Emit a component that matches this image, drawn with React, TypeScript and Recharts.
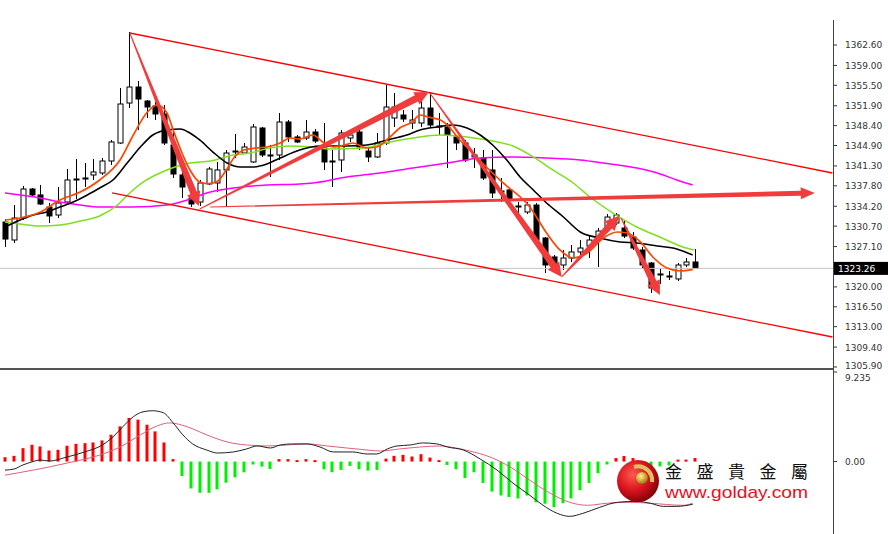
import React from "react";
import { ComposedChart, Bar, Line, XAxis, YAxis, ReferenceLine } from "recharts";

// candles, one per bar index
const opens = [
  1331.43, 1328.26, 1332.13, 1337.24, 1336.19, 1334.07, 1332.66, 1334.95, 1338.83, 1339.0,
  1339.71, 1340.06, 1342.17, 1345.34, 1352.38, 1355.2, 1352.73, 1351.86, 1350.45, 1344.99,
  1339.71, 1335.66, 1334.95, 1338.13, 1338.3, 1340.59, 1343.75, 1343.58, 1342.0, 1347.98,
  1343.23, 1343.23, 1349.04, 1346.4, 1346.22, 1347.28, 1344.46, 1342.0, 1342.35, 1346.22,
  1347.28, 1343.93, 1342.88, 1345.34, 1349.74, 1350.27, 1348.86, 1348.86, 1351.5, 1348.16,
  1348.16, 1346.4, 1345.34, 1342.88, 1342.7, 1340.59, 1336.71, 1337.07, 1334.07, 1333.19,
  1334.42, 1328.61, 1325.27, 1323.86, 1325.09, 1326.15, 1327.2, 1328.26, 1330.37, 1331.25,
  1330.37, 1328.78, 1326.5, 1324.21, 1322.1, 1321.75, 1321.4, 1323.86, 1324.39,
];
const highs = [
  1331.96, 1334.42, 1337.77, 1337.42, 1337.95, 1334.78, 1337.59, 1340.76, 1342.52, 1341.82,
  1342.52, 1342.7, 1345.87, 1355.03, 1364.89, 1356.26, 1352.91, 1352.56, 1352.03, 1347.63,
  1341.82, 1337.59, 1338.83, 1341.12, 1342.0, 1344.11, 1346.93, 1345.34, 1348.69, 1348.16,
  1344.99, 1350.62, 1349.39, 1346.75, 1349.39, 1347.81, 1348.86, 1344.11, 1347.63, 1347.63,
  1347.63, 1344.64, 1347.1, 1355.55, 1354.15, 1351.15, 1351.15, 1352.73, 1354.32, 1350.62,
  1348.86, 1346.75, 1345.87, 1344.46, 1344.11, 1344.11, 1339.18, 1337.42, 1334.95, 1334.95,
  1334.78, 1328.78, 1325.62, 1326.5, 1327.38, 1328.26, 1329.14, 1330.37, 1332.84, 1333.01,
  1331.78, 1329.67, 1327.03, 1324.39, 1323.33, 1322.8, 1324.21, 1325.09, 1326.68,
];
const lows = [
  1327.03, 1327.73, 1331.78, 1336.01, 1334.42, 1331.25, 1332.13, 1334.78, 1335.48, 1337.59,
  1338.83, 1339.71, 1341.47, 1345.16, 1351.5, 1347.63, 1349.74, 1349.39, 1344.99, 1339.18,
  1335.66, 1334.07, 1334.25, 1337.95, 1336.71, 1334.07, 1342.7, 1343.4, 1341.82, 1342.88,
  1339.35, 1342.35, 1345.52, 1345.34, 1345.87, 1345.34, 1340.59, 1337.59, 1340.24, 1345.52,
  1344.11, 1342.0, 1342.7, 1344.99, 1348.16, 1349.04, 1347.81, 1348.16, 1347.98, 1346.75,
  1340.94, 1344.11, 1342.0, 1340.94, 1338.83, 1335.66, 1334.95, 1334.95, 1332.66, 1332.84,
  1327.38, 1322.45, 1322.63, 1322.98, 1324.39, 1325.62, 1325.09, 1323.51, 1329.67, 1330.9,
  1328.61, 1326.5, 1323.33, 1318.92, 1320.51, 1321.22, 1321.04, 1323.51, 1323.15,
];
const closes = [
  1328.43, 1332.13, 1337.24, 1336.19, 1334.6, 1332.49, 1334.78, 1338.83, 1339.0, 1339.18,
  1340.24, 1342.17, 1345.52, 1352.21, 1355.2, 1353.09, 1351.68, 1350.45, 1345.34, 1339.88,
  1337.59, 1334.6, 1338.3, 1340.76, 1340.59, 1343.58, 1343.93, 1344.64, 1348.16, 1343.23,
  1343.05, 1349.04, 1346.4, 1345.52, 1347.28, 1345.69, 1342.0, 1342.17, 1347.1, 1346.75,
  1344.64, 1342.88, 1345.34, 1351.68, 1351.68, 1349.57, 1349.39, 1351.5, 1348.51, 1348.34,
  1346.75, 1345.34, 1342.35, 1343.23, 1339.18, 1336.54, 1336.89, 1335.3, 1334.25, 1334.42,
  1328.26, 1323.86, 1323.86, 1325.09, 1326.15, 1326.85, 1328.26, 1329.84, 1332.31, 1332.66,
  1328.96, 1326.85, 1323.86, 1319.81, 1322.28, 1321.92, 1323.86, 1324.39, 1323.26,
];

const lastPrice = 1323.26;
const priceTicks = [
  1362.6, 1359.0, 1355.5, 1351.9, 1348.4, 1344.9, 1341.3, 1337.8, 1334.2, 1330.7,
  1327.1, lastPrice, 1320.0, 1316.5, 1313.0, 1309.4, 1305.9,
];

// moving averages: [bar index, price]
const maFast = [
  [0, 1331.78], [1.7, 1332.13], [4, 1333.19], [6.2, 1335.3], [8.5, 1336.71], [10.7, 1338.83],
  [13, 1342.35], [14.5, 1346.75], [16, 1350.62], [17.2, 1352.03], [18.3, 1350.62], [19, 1347.63],
  [20, 1343.58], [20.9, 1340.59], [22, 1338.48], [23, 1338.2], [24, 1338.6], [25, 1340.6],
  [26, 1343.0], [27, 1344.1], [28.3, 1344.46], [29.6, 1344.64], [31.1, 1345.34], [32.2, 1346.22],
  [33.3, 1346.04], [34.8, 1346.75], [35.9, 1345.52], [37.1, 1344.64], [38.4, 1344.99],
  [39.3, 1345.34], [40.9, 1344.46], [42, 1344.64], [43.5, 1346.4], [44.6, 1347.98], [46, 1349.04],
  [46.9, 1350.27], [47.8, 1349.92], [49.2, 1349.39], [50.1, 1348.33], [51.1, 1346.4],
  [52.5, 1344.11], [54.5, 1340.94], [56.3, 1338.3], [59.3, 1334.07], [61.2, 1329.49],
  [62.7, 1326.5], [64.2, 1325.09], [65.8, 1325.97], [67.6, 1328.61], [69.2, 1329.67],
  [70.3, 1329.49], [71.8, 1327.91], [73.2, 1325.27], [74.8, 1323.33], [76.3, 1322.8], [77.7, 1323.05],
];
const maMid = [
  [0, 1330.55], [1.7, 1331.78], [3.2, 1332.66], [4.7, 1333.19], [6.2, 1334.07], [7.7, 1334.95],
  [9.3, 1336.19], [10.7, 1337.42], [12.2, 1338.83], [13.8, 1341.82], [15.3, 1344.64],
  [16.7, 1346.75], [18.3, 1347.63], [19.8, 1347.81], [20.9, 1347.1], [22, 1345.87],
  [23.5, 1343.75], [25.1, 1341.82], [26.6, 1341.12], [28, 1341.12], [29.6, 1341.65],
  [31.1, 1342.7], [33.3, 1344.11], [35.6, 1344.81], [38.6, 1344.81], [40.9, 1344.99],
  [43.2, 1345.87], [45.4, 1346.75], [46.9, 1347.63], [48.8, 1348.16], [50.6, 1348.51],
  [52.2, 1347.98], [53.7, 1346.75], [55.1, 1344.99], [56.7, 1342.35], [58.2, 1339.35],
  [59.7, 1337.07], [61.2, 1334.78], [63.1, 1332.31], [65, 1329.67], [67.2, 1328.61],
  [69.5, 1327.91], [71.4, 1327.73], [73.7, 1327.2], [75.9, 1326.68], [77.7, 1325.62],
];
const maSlow = [
  [0, 1331.43], [1.7, 1331.08], [4, 1330.72], [6.2, 1330.9], [8.5, 1331.6], [10.7, 1332.49],
  [12.7, 1334.42], [14.1, 1336.54], [15.8, 1338.65], [17.5, 1340.06], [19.2, 1341.12],
  [20.9, 1341.82], [23.2, 1342.17], [25.8, 1343.23], [27.7, 1343.58], [29.9, 1344.46],
  [32.2, 1344.81], [34.5, 1344.64], [36.7, 1344.28], [40.5, 1344.46], [43.5, 1345.52],
  [46.1, 1346.22], [49.2, 1346.75], [52.2, 1346.4], [54.5, 1345.87], [57.4, 1344.81],
  [59.7, 1342.88], [61.9, 1340.59], [64.2, 1338.3], [66.1, 1335.83], [68.7, 1333.01],
  [71.4, 1330.55], [74, 1328.78], [76.6, 1327.03], [77.9, 1326.5],
];
const maLong = [
  [0, 1336.54], [1.7, 1336.19], [4, 1335.66], [6.2, 1334.95], [8.5, 1334.42], [10.7, 1334.07],
  [14.5, 1334.07], [18.3, 1334.42], [20.6, 1335.3], [22.8, 1336.54], [25.8, 1337.42],
  [29.6, 1337.95], [33.3, 1338.12], [34.8, 1338.3], [38.6, 1339.35], [42.4, 1340.06],
  [46.1, 1340.94], [50, 1341.82], [53.7, 1342.7], [57.4, 1342.88], [61.2, 1342.7],
  [65, 1342.35], [67.6, 1341.82], [71.4, 1340.94], [73.7, 1340.06], [75.9, 1338.83], [77.7, 1337.95],
];

// drawn channel and arrows: [bar index, price] end points
const channelUpper = [[14.1, 1364.71], [93.5, 1340.06]];
const channelLower = [[12.1, 1336.54], [93.5, 1311.18]];
const arrowsBig = [
  [[14.1, 1364.71], [21.9, 1334.25]],
  [[22.0, 1333.72], [47.9, 1354.32]],
  [[48.0, 1354.15], [62.9, 1321.75]],
  [[62.9, 1321.75], [69.4, 1332.49]],
  [[69.6, 1332.13], [74.0, 1318.57]],
];
const arrowFlat = [[23.2, 1334.07], [91.5, 1336.54]];

// MACD pane
const hist = [
  0.45, 0.59, 1.38, 1.73, 1.56, 1.14, 1.21, 1.63, 1.83, 1.9,
  1.97, 2.18, 2.77, 3.63, 4.5, 4.32, 3.8, 3.11, 1.97, 0.25,
  -1.49, -2.77, -3.22, -3.22, -2.87, -2.18, -1.63, -1.11, -0.3, -0.52,
  -0.76, 0.25, 0.25, 0.15, 0.25, 0.15, -0.8, -1.1, -0.86, -0.45,
  -0.8, -0.93, -0.86, 0.3, 0.59, 0.69, 0.52, 0.76, 0.41, 0.15,
  -0.35, -0.8, -1.7, -1.1, -2.2, -3.1, -3.5, -3.65, -3.8, -3.5,
  -4.2, -4.35, -4.7, -4.3, -3.8, -2.95, -2.2, -1.2, -0.3, 0.36,
  0.57, 0.36, -0.4, -0.5, -0.5, -0.4, 0.2, 0.2, 0.36,
];
const macdMain = [
  [0, -0.88], [1, -0.78], [2, -0.36], [3, -0.05], [4, 0.16], [5, 0.05], [7, 0.47], [9, 0.99],
  [11, 1.71], [12.2, 2.54], [13.3, 3.58], [14.5, 4.62], [15.6, 5.13], [16.7, 5.24], [17.9, 5.03],
  [19, 3.99], [20.1, 2.75], [21.2, 1.82], [22.8, 1.19], [24, 0.88], [25.8, 0.99], [27.3, 1.3],
  [28.5, 1.61], [30, 1.4], [31.1, 1.71], [32.5, 1.82], [34.1, 1.82], [35.6, 1.5], [37.1, 0.99],
  [39.3, 0.99], [40.9, 0.78], [42, 0.78], [43.2, 1.3], [44.3, 1.61], [45.8, 1.71], [47.2, 1.92],
  [48.8, 1.82], [50, 1.5], [51.8, 1.19], [53.7, 0.26], [55.6, -0.88], [57.4, -2.23],
  [59.3, -3.48], [60.8, -4.51], [62.4, -5.34], [63.8, -5.65], [65.3, -5.34], [67.2, -4.72],
  [69.2, -4.2], [71.4, -4.1], [72.9, -4.3], [74.4, -4.62], [75.9, -4.62], [77.7, -4.41],
];
const macdSignal = [
  [0, -1.4], [3.2, -0.88], [7, -0.16], [10.7, 0.67], [13, 1.5], [15.3, 2.75], [17.2, 3.68],
  [18.6, 3.99], [20.6, 3.58], [22.8, 2.75], [25.1, 2.02], [27.3, 1.71], [29.6, 1.61],
  [31.9, 1.71], [34.1, 1.82], [36.4, 1.61], [38.6, 1.4], [40.9, 1.19], [42.4, 1.09],
  [44.6, 1.3], [46.9, 1.5], [49.2, 1.61], [50.3, 1.5], [52.5, 1.09], [54.8, 0.47],
  [57.1, -0.57], [59.3, -1.92], [61.6, -3.27], [63.8, -4.2], [65.8, -4.51], [68, -4.3],
  [70.6, -4.2], [72.9, -4.3], [76.6, -4.51], [77.7, -4.3],
];

const candles = opens.map((o, i) => ({
  i, open: o, high: highs[i], low: lows[i], close: closes[i], range: [lows[i], highs[i]],
}));
const pts = (arr: number[][]) => arr.map(([i, v]) => ({ i, v }));
const histData = hist.map((h, i) => ({ i, h }));

const xDomain = [-0.565, 93.56];
const font = "DejaVu Sans";

function Candle(props: any) {
  const { x, y, width, height, payload } = props;
  if (!payload) return null;
  const { open, close, high, low } = payload;
  const top = Math.min(y, y + height);
  const h = Math.abs(height);
  const ppu = h / (high - low || 1);
  const py = (p: number) => top + (high - p) * ppu;
  const cx = Math.round(x + width / 2) + 0.5;
  const bTop = py(Math.max(open, close));
  const bH = Math.max(1, Math.abs(py(open) - py(close)));
  const up = close >= open;
  return (
    <g>
      <line x1={cx} x2={cx} y1={top} y2={top + h} stroke="#000" strokeWidth={1} />
      <rect x={cx - 2.5} y={bTop} width={5} height={bH} fill={up ? "#fff" : "#000"} stroke="#000" strokeWidth={1} />
    </g>
  );
}

function HistBar(props: any) {
  const { x, y, width, height, payload } = props;
  if (!payload) return null;
  const top = Math.min(y, y + height);
  const h = Math.max(2, Math.abs(height));
  const cx = Math.round(x + width / 2);
  return <rect x={cx - 1.5} y={top} width={3} height={h} fill={payload.h >= 0 ? "#ff0000" : "#00ee00"} />;
}

function arrowShape(tail: number, shaft: number, headW: number, headL: number, color: string) {
  return (p: any) => {
    const { x1, y1, x2, y2 } = p;
    if (x1 == null) return null;
    const dx = x2 - x1, dy = y2 - y1;
    const len = Math.sqrt(dx * dx + dy * dy) || 1;
    const ux = dx / len, uy = dy / len;
    const nx = -uy, ny = ux;
    const bx = x2 - ux * headL, by = y2 - uy * headL;
    const P = [
      [x1 + nx * tail / 2, y1 + ny * tail / 2],
      [bx + nx * shaft / 2, by + ny * shaft / 2],
      [bx + nx * headW / 2, by + ny * headW / 2],
      [x2, y2],
      [bx - nx * headW / 2, by - ny * headW / 2],
      [bx - nx * shaft / 2, by - ny * shaft / 2],
      [x1 - nx * tail / 2, y1 - ny * tail / 2],
    ];
    return <polygon points={P.map((q) => q.join(",")).join(" ")} fill={color} />;
  };
}

function PriceTick(props: any) {
  const { x, y, payload } = props;
  const v = payload.value;
  if (v === lastPrice) {
    return (
      <g>
        <rect x={x - 11} y={y - 6.5} width={55} height={13} fill="#000" />
        <text x={x - 7} y={y + 3.5} fontSize={9} fontFamily={font} fill="#fff">{v.toFixed(2)}</text>
      </g>
    );
  }
  return (
    <text x={x} y={y + (v === 1305.9 ? 2.5 : 3.5)} fontSize={9} fontFamily={font} fill="#333">{v.toFixed(2)}</text>
  );
}

function MacdTick(props: any) {
  const { x, y, payload } = props;
  const v = payload.value;
  return (
    <text x={x} y={y + (v === 0 ? 3.5 : 8.5)} fontSize={9} fontFamily={font} fill="#333">
      {v === 0 ? "0.00" : v.toFixed(3)}
    </text>
  );
}

const seg = (a: number[][]) => [{ x: a[0][0], y: a[0][1] }, { x: a[1][0], y: a[1][1] }];

export default function App() {
  return (
    <div style={{ position: "absolute", left: 0, top: 0, width: 888, height: 534, background: "#fff", overflow: "hidden" }}>
      <div style={{ position: "absolute", left: 0, top: 370 }}>
        <ComposedChart width={888} height={164} data={histData} margin={{ top: 2, right: 0, bottom: 0, left: 0 }}>
          <XAxis dataKey="i" type="number" domain={xDomain} allowDataOverflow hide />
          <YAxis
            orientation="right"
            width={55}
            domain={[-7.47, 9.235]}
            allowDataOverflow
            ticks={[9.235, 0]}
            interval={0}
            axisLine={false}
            tickLine={{ stroke: "#333" }}
            tickSize={4}
            tickMargin={8}
            tick={<MacdTick />}
          />
          <Bar dataKey="h" shape={<HistBar />} isAnimationActive={false} />
          <Line data={pts(macdSignal)} dataKey="v" type="monotone" stroke="#e0607a" strokeWidth={1} dot={false} isAnimationActive={false} />
          <Line data={pts(macdMain)} dataKey="v" type="monotone" stroke="#222" strokeWidth={1} dot={false} isAnimationActive={false} />
        </ComposedChart>
      </div>
      <div style={{ position: "absolute", left: 0, top: 0 }}>
        <ComposedChart width={888} height={376} data={candles} margin={{ top: 20, right: 0, bottom: 8, left: 0 }}>
          <XAxis dataKey="i" type="number" domain={xDomain} allowDataOverflow hide />
          <YAxis
            orientation="right"
            width={55}
            domain={[1305.72, 1367.0]}
            allowDataOverflow
            ticks={priceTicks}
            interval={0}
            axisLine={false}
            tickLine={{ stroke: "#333" }}
            tickSize={4}
            tickMargin={8}
            tick={<PriceTick />}
          />
          <ReferenceLine y={lastPrice} stroke="#c4c4c4" strokeWidth={1} />
          <Bar dataKey="range" barSize={5} shape={<Candle />} isAnimationActive={false} />
          <Line data={pts(maLong)} dataKey="v" type="monotone" stroke="#ff00ff" strokeWidth={1.5} dot={false} isAnimationActive={false} />
          <Line data={pts(maSlow)} dataKey="v" type="monotone" stroke="#7ee01e" strokeWidth={1.5} dot={false} isAnimationActive={false} />
          <Line data={pts(maMid)} dataKey="v" type="monotone" stroke="#000" strokeWidth={1.6} dot={false} isAnimationActive={false} />
          <Line data={pts(maFast)} dataKey="v" type="monotone" stroke="#ff4500" strokeWidth={1.7} dot={false} isAnimationActive={false} />
          <ReferenceLine segment={seg(channelUpper)} stroke="#ff0000" strokeWidth={1.3} ifOverflow="visible" />
          <ReferenceLine segment={seg(channelLower)} stroke="#ff0000" strokeWidth={1.3} ifOverflow="visible" />
          {arrowsBig.map((a, k) => (
            <ReferenceLine key={k} segment={seg(a)} ifOverflow="visible" shape={arrowShape(1, 7, 14, 14, "#f03c3c")} />
          ))}
          <ReferenceLine segment={seg(arrowFlat)} ifOverflow="visible" shape={arrowShape(1, 5, 12, 14, "#f03c3c")} />
        </ComposedChart>
      </div>
      <div style={{ position: "absolute", left: 0, top: 368, width: 834, height: 2, background: "#555" }} />
      <div style={{ position: "absolute", left: 833, top: 20, width: 1, height: 514, background: "#444" }} />
      <svg width={888} height={534} style={{ position: "absolute", left: 0, top: 0, pointerEvents: "none" }}>
        <defs>
          <radialGradient id="redBall" cx="38%" cy="35%" r="70%">
            <stop offset="0" stopColor="#ff5a50" />
            <stop offset="0.55" stopColor="#d8121c" />
            <stop offset="1" stopColor="#7a0008" />
          </radialGradient>
          <radialGradient id="goldBall" cx="40%" cy="35%" r="70%">
            <stop offset="0" stopColor="#fff2a0" />
            <stop offset="0.5" stopColor="#d8b03a" />
            <stop offset="1" stopColor="#8c6810" />
          </radialGradient>
        </defs>
        <circle cx={638} cy={481} r={21} fill="url(#redBall)" />
        <path d="M 634 467 A 14 14 0 0 1 652 482" fill="none" stroke="#e0c060" strokeWidth={4} />
        <circle cx={642} cy={478} r={6} fill="url(#goldBall)" />
        <text x={665} y={478} fontSize={17} fontFamily="Noto Sans CJK TC" fill="#111" textLength={143} lengthAdjust="spacing">金盛貴金屬</text>
        <text x={665} y={498} fontSize={17} fontFamily="Liberation Sans" fill="#e8101e" textLength={143} lengthAdjust="spacingAndGlyphs">www.golday.com</text>
      </svg>
    </div>
  );
}
